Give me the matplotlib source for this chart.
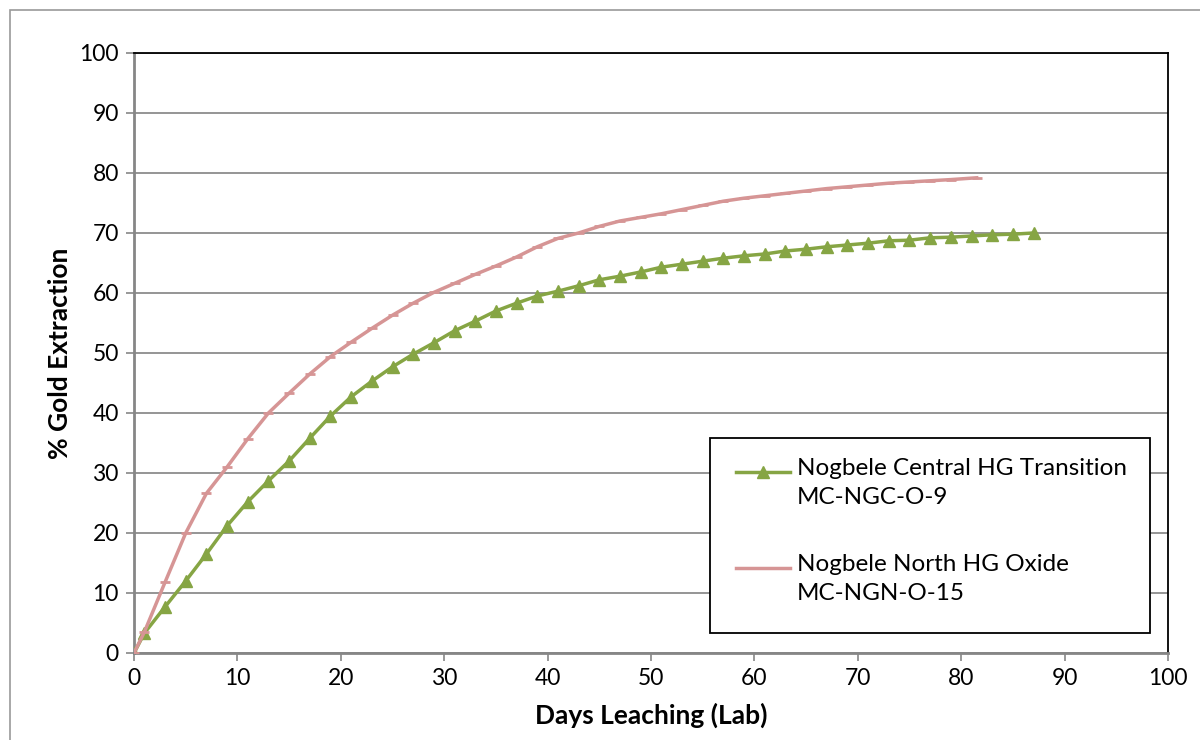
import numpy as np
import matplotlib

matplotlib.use('Agg')
import matplotlib.pyplot as plt
from matplotlib.patches import Rectangle
from matplotlib.lines import Line2D

# Nogbele Central HG Transition MC-NGC-O-9
central_days = [0, 1, 3, 5, 7, 9, 11, 13, 15, 17, 19, 21, 23, 25, 27, 29, 31, 33, 35, 37,
                39, 41, 43, 45, 47, 49, 51, 53, 55, 57, 59, 61, 63, 65, 67, 69, 71, 73,
                75, 77, 79, 81, 83, 85, 87]
central_ext = [0, 3.3, 7.7, 12.0, 16.5, 21.2, 25.2, 28.7, 32.0, 35.8, 39.5, 42.7, 45.3,
               47.7, 49.8, 51.7, 53.7, 55.3, 57.0, 58.3, 59.5, 60.3, 61.2, 62.2, 62.8,
               63.5, 64.3, 64.8, 65.3, 65.8, 66.2, 66.5, 67.0, 67.3, 67.7, 68.0, 68.3,
               68.7, 68.8, 69.2, 69.3, 69.5, 69.7, 69.8, 70.0]

# Nogbele North HG Oxide MC-NGN-O-15
north_days = [0, 1, 3, 5, 7, 9, 11, 13, 15, 17, 19, 21, 23, 25, 27, 29, 31, 33, 35, 37,
              39, 41, 43, 45, 47, 49, 51, 53, 55, 57, 59, 61, 63, 65, 67, 69, 71, 73,
              75, 77, 79, 81.5]
north_ext = [0, 3.5, 11.8, 20.0, 26.6, 31.0, 35.7, 40.0, 43.3, 46.5, 49.4, 51.8, 54.1,
             56.3, 58.3, 60.1, 61.6, 63.1, 64.5, 66.0, 67.7, 69.1, 70.0, 71.1, 72.0,
             72.6, 73.2, 73.9, 74.6, 75.3, 75.8, 76.2, 76.6, 77.0, 77.4, 77.7, 78.0,
             78.3, 78.5, 78.7, 78.9, 79.2]

series_labels = ['Nogbele Central HG Transition\nMC-NGC-O-9',
                 'Nogbele North HG Oxide\nMC-NGN-O-15']

x_ticks = np.arange(0, 101, 10)
y_ticks = np.arange(0, 101, 10)

GREEN = '#86a544'
PINK = '#d69595'

plt.rcParams['font.family'] = ['Lato', 'DejaVu Sans']

fig = plt.figure(figsize=(12, 7.4), dpi=100)
ax = fig.add_axes([0.1117, 0.1176, 0.8616, 0.8108])

# outer chart border
fig.patches.append(Rectangle((10 / 1200, -0.01), 1.0, 1 - 10 / 740 + 0.01,
                             transform=fig.transFigure, fill=False,
                             edgecolor='#9a9a9a', linewidth=1.2))

ax.plot(central_days, central_ext, color=GREEN, linewidth=2.5, marker='^',
        markersize=9, markerfacecolor=GREEN, markeredgecolor=GREEN, zorder=3)
ax.plot(north_days, north_ext, color=PINK, linewidth=2.5, marker='_',
        markersize=7, markeredgewidth=2, markeredgecolor=PINK, zorder=3)

ax.set_xlim(0, 100)
ax.set_ylim(0, 100)
ax.set_xticks(x_ticks)
ax.set_yticks(y_ticks)
ax.tick_params(axis='both', labelsize=16.5, length=6, width=1.2, color='#868686', pad=5)
ax.grid(axis='y', color='#8c8c8c', linewidth=1.3)
ax.set_axisbelow(True)

for side in ('left', 'bottom'):
    ax.spines[side].set_color('#868686')
    ax.spines[side].set_linewidth(2)
for side in ('top', 'right'):
    ax.spines[side].set_color('black')
    ax.spines[side].set_linewidth(1.3)

ax.set_xlabel('Days Leaching (Lab)', fontsize=19, fontweight='bold', labelpad=10)
ax.set_ylabel('% Gold Extraction', fontsize=19, fontweight='bold', labelpad=5)

# legend drawn Excel-style: sample aligned to the first text line
def axfrac(px, py):
    return (px - 134) / 1034, (653 - py) / 600

x0, y0 = axfrac(710, 633)
x1, y1 = axfrac(1150, 438)
ax.add_patch(Rectangle((x0, y0), x1 - x0, y1 - y0, transform=ax.transAxes,
                       facecolor='white', edgecolor='black', linewidth=1.3, zorder=5))
styles = [dict(color=GREEN, marker='^', markersize=9, markerfacecolor=GREEN,
               markeredgecolor=GREEN),
          dict(color=PINK, marker='_', markersize=7, markeredgewidth=2,
               markeredgecolor=PINK)]
for label, style, line_y in zip(series_labels, styles, [472, 568]):
    lx0, ly = axfrac(736, line_y)
    lx1, _ = axfrac(790, line_y)
    ax.add_line(Line2D([lx0, lx1], [ly, ly], linewidth=2.5, transform=ax.transAxes,
                       zorder=6, color=style['color']))
    ax.add_line(Line2D([(lx0 + lx1) / 2], [ly], transform=ax.transAxes, zorder=6,
                       linestyle='none', **style))
    tx, ty = axfrac(797, line_y - 14)
    ax.text(tx, ty, label, transform=ax.transAxes, fontsize=17.5, va='top', ha='left',
            linespacing=1.5, zorder=6)

fig.savefig('out.png', dpi=100)
